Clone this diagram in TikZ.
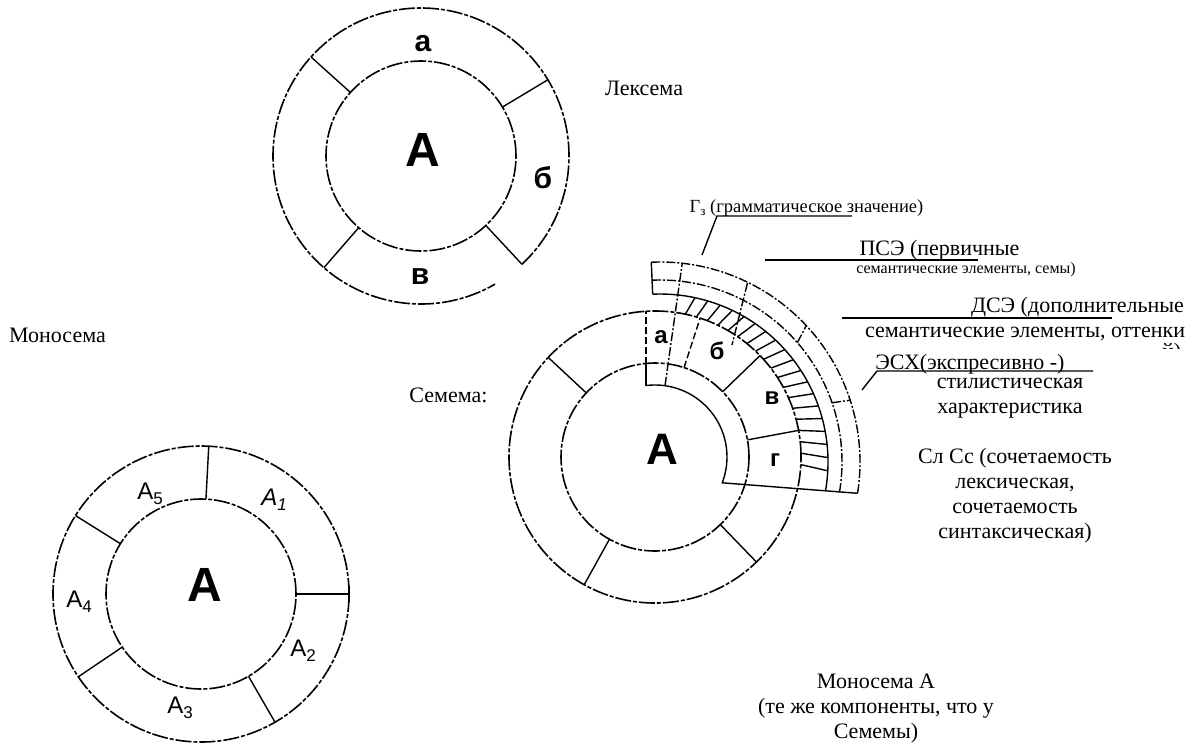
\documentclass[tikz,border=0pt]{standalone}
\usepackage{fontspec}
\setmainfont{Liberation Serif}
\newfontfamily\sansfont{Liberation Sans}
\usetikzlibrary{calc}
\newcommand{\Ai}[1]{А\raisebox{-5pt}{\fontsize{17}{17}\selectfont #1}}

\begin{document}
\begin{tikzpicture}[x=1pt, y=1pt, line width=1.6pt,
    ring/.style={dash pattern=on 16pt off 2pt on 4pt off 2pt},
    lyr/.style={line width=1.4pt, dash pattern=on 9pt off 2pt on 2pt off 2pt},
    divider/.style={line width=1.4pt},
    divd/.style={line width=1.4pt, dash pattern=on 7pt off 3pt},
    lead/.style={line width=1.4pt},
    txt/.style={font=\fontsize{22}{25}\selectfont, inner sep=0pt, anchor=base, align=center},
    sml/.style={font=\fontsize{16}{18}\selectfont, inner sep=0pt, anchor=base},
    grm/.style={font=\fontsize{18.5}{21}\selectfont, inner sep=0pt, anchor=base},
    bigA/.style={font=\sansfont\bfseries\fontsize{48}{48}\selectfont, inner sep=0pt},
    segL/.style={font=\sansfont\bfseries\fontsize{30}{30}\selectfont, inner sep=0pt},
    segS/.style={font=\sansfont\bfseries\fontsize{24}{24}\selectfont, inner sep=0pt},
    subA/.style={font=\sansfont\fontsize{24}{24}\selectfont, inner sep=0pt}]
  \useasboundingbox (0,0) rectangle (1186,-742);
  % ================================================================ Лексема (top)
  \coordinate (lc) at (421,-156);
  \draw[ring] (lc) circle[radius=95];
  \draw[ring] (lc) ++(-47:148) arc[start angle=-47, end angle=300, radius=148];
  \foreach \a in {138,31,-131,-47} \draw[divider] (lc) ++(\a:95) -- ++(\a:53);
  \node[bigA] (lA) at (423,-150) {А};
  \node[segL] (la) at (423,-44) {а};
  \node[segL] (lb) at (543,-178) {б};
  \node[segL] (lv) at (420,-277) {в};
  \node[txt] (lexema) at (644,-95) {Лексема};
  % ================================================================ Моносема (bottom left)
  \coordinate (mc) at (201,-594);
  \draw[ring] (mc) circle[radius=95];
  \draw[ring] (mc) circle[radius=148];
  \foreach \a in {87,0,148,-146,-60} \draw[divider] (mc) ++(\a:95) -- ++(\a:53);
  \draw[divider] (mc) ++(0:148) ++(0,8) -- ++(0,-16);
  \node[bigA] (mA0) at (205,-585) {А};
  \node[subA] (m5) at (150,-494) {\Ai{5}};
  \node[subA, font=\sansfont\itshape\fontsize{24}{24}\selectfont] (m1) at (274,-500) {\Ai{1}};
  \node[subA] (m4) at (79,-602) {\Ai{4}};
  \node[subA] (m2) at (303,-651) {\Ai{2}};
  \node[subA] (m3) at (180,-708) {\Ai{3}};
  \node[txt] (monosema) at (57.5,-342) {Моносема};
  % ================================================================ Семема (right)
  \coordinate (sc) at (655,-457);
  \coordinate (oc) at (660,-462);
  \draw[ring] (sc) circle[radius=94];
  \draw[ring] (sc) circle[radius=146];
  \foreach \a in {137,-119,-46} \draw[divider] (sc) ++(\a:94) -- ++(\a:52);
  % detailed sector
  \draw[divider] (sc) ++(97:72) arc[start angle=97, end angle=-21, radius=72] -- ($(oc)+(-9:200)$);
  \draw[divider] (646,-386) -- (646,-364);
  \draw[divd] (646,-364) -- (646,-311);
  \draw[divd] (sc) ++(72:94) -- ++(72:52);
  \draw[divider] (sc) ++(44:94) -- ++(44:52);
  \draw[divider] (sc) ++(10.5:94) -- ++(10.5:54);
  \draw[lyr] (sc) ++(82:72) -- ++(82:124);
  \draw[divider] (oc) ++(92.5:168) arc[start angle=92.5, end angle=-10, radius=168];
  \draw[lyr] (oc) ++(92.5:182) arc[start angle=92.5, end angle=-9.5, radius=182];
  \draw[lyr] (oc) ++(92.5:200) arc[start angle=92.5, end angle=-9, radius=200];
  \draw[divider] ($(oc)+(92.5:200)$) -- ($(oc)+(92.5:168)$);
  \foreach \a in {78,73.5,...,-4} \draw[divider] (sc) ++(\a:146) -- ($(oc)+(\a:168)$);
  \draw[lyr] ($(sc)+(62:197)$) -- ($(sc)+(55.5:136)$);
  \draw[lyr] ($(oc)+(41:182)$) -- ($(oc)+(43:200)$);
  \draw[lyr] ($(oc)+(19:182)$) -- ($(oc)+(18:200)$);
  \node[bigA, font=\sansfont\bfseries\fontsize{44}{44}\selectfont] (sA) at (662,-449) {А};
  \node[segS] (sa) at (661,-337) {а};
  \node[segS] (sb) at (717,-351) {б};
  \node[segS] (sv) at (772,-398) {в};
  \node[segS] (sg) at (775,-460) {г};
  \node[txt] (semema) at (448.5,-402) {Семема:};
  % labels of the sector
  \node[grm] (gz) at (806.5,-212) {Г\raisebox{-3pt}{\fontsize{13}{13}\selectfont з} (грамматическое значение)};
  \coordinate (gzR) at (852,-216);
  \coordinate (gzL) at (717,-216);
  \coordinate (gzT) at (702,-255);
  \draw[lead] (gzR) -- (gzL) -- (gzT);
  \node[txt] (pse) at (939.5,-255) {ПСЭ (первичные};
  \node[sml] (pse2) at (966,-273) {семантические элементы, семы)};
  \coordinate (pseL) at (765,-260);
  \coordinate (pseR) at (978,-260);
  \draw[lead] (pseL) -- (pseR);
  \node[txt] (dse) at (1077.5,-312) {ДСЭ (дополнительные};
  \node[txt] (dse2) at (1025,-337) {семантические элементы, оттенки};
  \coordinate (dseL) at (842,-318);
  \coordinate (dseR) at (1112,-318);
  \draw[lead] (dseL) -- (dseR);
  \begin{scope}
    \clip (1100,-338) rectangle (1186,-348.5);
    \node[txt, anchor=base east] (dse3) at (1182,-358) {й)};
  \end{scope}
  \node[txt] (esh) at (970,-369) {ЭСХ(экспресивно -)};
  \coordinate (eshR) at (1093,-371);
  \coordinate (eshL) at (877,-371);
  \coordinate (eshT) at (862,-390);
  \draw[lead] (eshR) -- (eshL) -- (eshT);
  % multi-line nodes: base is the last line
  \node[txt] (esh2) at (1010,-413) {стилистическая\\характеристика};
  \node[txt] (slss) at (1015,-538) {Сл Сс (сочетаемость\\лексическая,\\сочетаемость\\синтаксическая)};
  \node[txt] (monA) at (876,-738) {Моносема А\\(те же компоненты, что у\\Семемы)};
\end{tikzpicture}
\end{document}
